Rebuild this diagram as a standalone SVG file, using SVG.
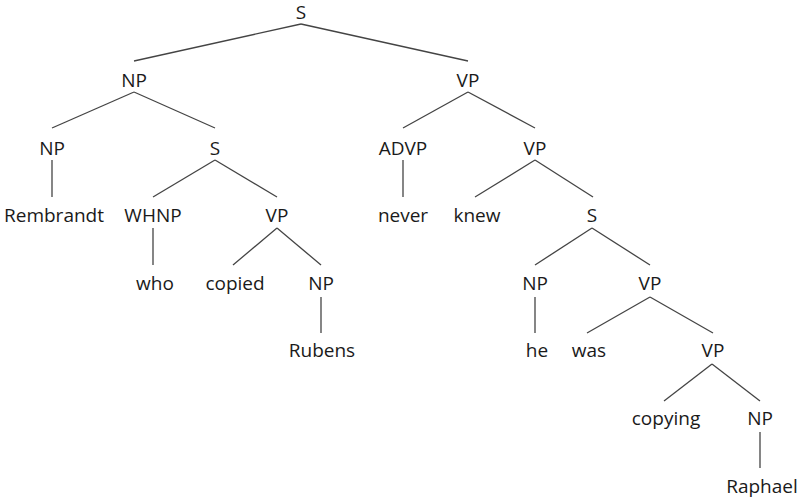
<svg xmlns="http://www.w3.org/2000/svg" width="799" height="501" viewBox="0 0 799 501">
<style>
text{font-family:"Open Sans","Noto Sans","DejaVu Sans",sans-serif;font-size:19px;fill:#1a1a1a;text-anchor:middle}
.e line{stroke:#444;stroke-width:1.3;fill:none}
</style>
<rect width="799" height="501" fill="#fff"/>
<g class="e" id="connectors">
<line x1="301" y1="24" x2="134" y2="61"/>
<line x1="301" y1="24" x2="468" y2="61"/>
<line x1="134" y1="92" x2="52" y2="128"/>
<line x1="134" y1="92" x2="215" y2="128"/>
<line x1="468" y1="92" x2="403" y2="128"/>
<line x1="468" y1="92" x2="535" y2="128"/>
<line x1="52" y1="160" x2="52" y2="197"/>
<line x1="215" y1="160" x2="153" y2="197"/>
<line x1="215" y1="160" x2="277" y2="197"/>
<line x1="403" y1="160" x2="403" y2="197"/>
<line x1="535" y1="160" x2="475" y2="197"/>
<line x1="535" y1="160" x2="593" y2="197"/>
<line x1="153" y1="228" x2="153" y2="265"/>
<line x1="277" y1="228" x2="233" y2="265"/>
<line x1="277" y1="228" x2="321" y2="265"/>
<line x1="592" y1="228" x2="535" y2="265"/>
<line x1="592" y1="228" x2="650" y2="265"/>
<line x1="321" y1="297" x2="321" y2="333"/>
<line x1="535" y1="297" x2="535" y2="333"/>
<line x1="650" y1="297" x2="587" y2="333"/>
<line x1="650" y1="297" x2="713" y2="333"/>
<line x1="712" y1="364" x2="664" y2="401"/>
<line x1="712" y1="364" x2="760" y2="401"/>
<line x1="760" y1="432" x2="760" y2="468"/>
</g>
<g id="n-S"><text x="301" y="19">S</text></g>
<g id="n-NP1"><text x="134" y="87">NP</text></g>
<g id="n-VP1"><text x="468" y="87">VP</text></g>
<g id="n-NP2"><text x="52" y="155">NP</text></g>
<g id="n-S2"><text x="215" y="155">S</text></g>
<g id="n-ADVP"><text x="403" y="155">ADVP</text></g>
<g id="n-VP2"><text x="535" y="155">VP</text></g>
<g id="n-Rembrandt"><text x="54" y="222">Rembrandt</text></g>
<g id="n-WHNP"><text x="153" y="222">WHNP</text></g>
<g id="n-VP3"><text x="277" y="222">VP</text></g>
<g id="n-never"><text x="403" y="222">never</text></g>
<g id="n-knew"><text x="477" y="222">knew</text></g>
<g id="n-S3"><text x="592" y="222">S</text></g>
<g id="n-who"><text x="155" y="290">who</text></g>
<g id="n-copied"><text x="235" y="290">copied</text></g>
<g id="n-NP3"><text x="321" y="290">NP</text></g>
<g id="n-NP4"><text x="535" y="290">NP</text></g>
<g id="n-VP4"><text x="650" y="290">VP</text></g>
<g id="n-Rubens"><text x="322" y="357">Rubens</text></g>
<g id="n-he"><text x="537" y="357">he</text></g>
<g id="n-was"><text x="589" y="357">was</text></g>
<g id="n-VP5"><text x="713" y="357">VP</text></g>
<g id="n-copying"><text x="666" y="425">copying</text></g>
<g id="n-NP5"><text x="760" y="425">NP</text></g>
<g id="n-Raphael"><text x="762" y="493">Raphael</text></g>
</svg>
